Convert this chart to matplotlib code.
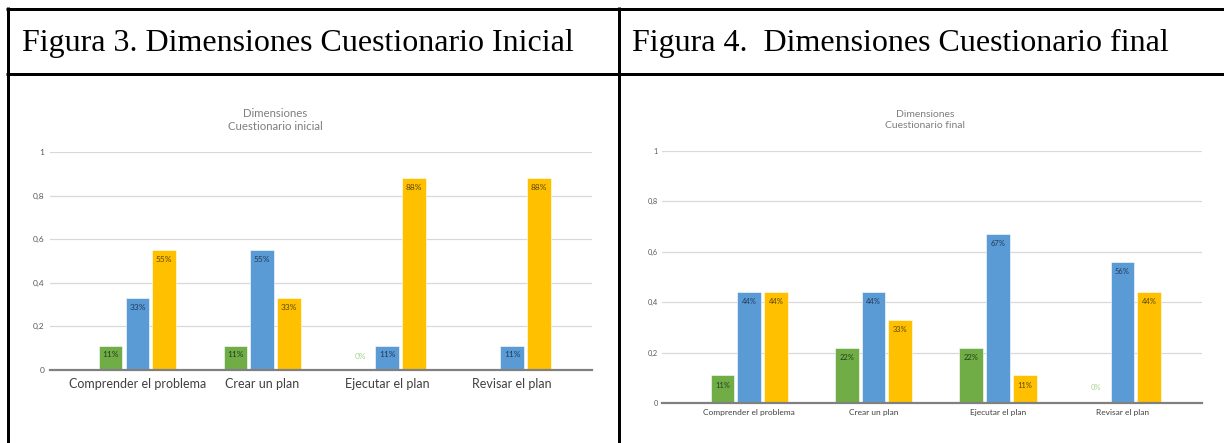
import matplotlib
matplotlib.use("Agg")
import matplotlib.pyplot as plt
import numpy as np

W, H = 1224, 443
categories = ["Comprender el problema", "Crear un plan", "Ejecutar el plan", "Revisar el plan"]
yticks = [0, 0.2, 0.4, 0.6, 0.8, 1]
ytick_labels = ["0", "0,2", "0,4", "0,6", "0,8", "1"]

ini_green = [0.11, 0.11, 0.0, None]
ini_blue = [0.33, 0.55, 0.11, 0.11]
ini_yellow = [0.55, 0.33, 0.88, 0.88]

fin_green = [0.11, 0.22, 0.22, 0.0]
fin_blue = [0.44, 0.44, 0.67, 0.56]
fin_yellow = [0.44, 0.33, 0.11, 0.44]

header_left = "Figura 3. Dimensiones Cuestionario Inicial"
header_right = "Figura 4.  Dimensiones Cuestionario final"
title_left = "Dimensiones\nCuestionario inicial"
title_right = "Dimensiones\nCuestionario final"

GREEN, BLUE, YELLOW = "#70AD47", "#5B9BD5", "#FFC000"
LBL = {GREEN: "#263d18", BLUE: "#1f3a5c", YELLOW: "#5c4500"}
SANS = ["Lato", "DejaVu Sans"]

fig = plt.figure(figsize=(W / 100, H / 100), dpi=100)


def px_axes(x0, y0, x1, y1):
    return fig.add_axes([x0 / W, 1 - y1 / H, (x1 - x0) / W, (y1 - y0) / H])


# table lines
over = fig.add_axes([0, 0, 1, 1])
over.set_xlim(0, W)
over.set_ylim(H, 0)
over.axis("off")
lw = 3 * 0.72
over.plot([6, W], [8.5, 8.5], color="black", lw=lw, solid_capstyle="butt")
over.plot([6, W], [73.5, 73.5], color="black", lw=lw, solid_capstyle="butt")
over.plot([7.5, 7.5], [7, H], color="black", lw=lw, solid_capstyle="butt")
over.plot([618.5, 618.5], [7, H], color="black", lw=lw, solid_capstyle="butt")
over.text(22, 43, header_left, fontsize=23, family="Liberation Serif", va="center", ha="left")
over.text(632, 43, header_right, fontsize=23, family="Liberation Serif", va="center", ha="left")


def draw(box, green, blue, yellow, title, title_xy, fs_cat, fs_tick, fs_title, fs_lbl, cat_pad, ypad):
    ax = px_axes(*box)
    x = np.arange(len(categories))
    bw = 0.19
    off = 0.215
    for vals, col, d in ((green, GREEN, -off), (blue, BLUE, 0), (yellow, YELLOW, off)):
        for xi, v in zip(x, vals):
            if v is None:
                continue
            if v > 0:
                ax.bar(xi + d, v, width=bw, color=col, edgecolor="white", linewidth=0.4, zorder=3)
                ax.text(xi + d, v - 0.025, f"{round(v*100):d}%", ha="center", va="top",
                        fontsize=fs_lbl, color=LBL[col], family=SANS, zorder=4)
            else:
                ax.text(xi + d, 0.06, "0%", ha="center", va="center",
                        fontsize=fs_lbl, color="#A9D18E", family=SANS, zorder=4)
    ax.set_xlim(-0.70, 3.64)
    ax.set_ylim(0, 1)
    ax.set_yticks(yticks)
    ax.set_yticklabels(ytick_labels, fontsize=fs_tick, color="#595959", family=SANS)
    ax.set_xticks(x)
    ax.set_xticklabels(categories, fontsize=fs_cat, color="#404040", family=SANS)
    ax.tick_params(length=0, pad=cat_pad, axis="x")
    ax.tick_params(length=0, pad=ypad, axis="y")
    ax.grid(axis="y", color="#D9D9D9", lw=0.9, zorder=0)
    for s in ("top", "right", "left"):
        ax.spines[s].set_visible(False)
    ax.spines["bottom"].set_color("#808080")
    ax.spines["bottom"].set_linewidth(1.6)
    ax.spines["bottom"].set_zorder(5)
    over.text(title_xy[0], title_xy[1], title, ha="center", va="center", fontsize=fs_title,
              color="#7f7f7f", family=SANS, linespacing=1.3)
    return ax


draw((50, 152, 592, 370), ini_green, ini_blue, ini_yellow, title_left, (275, 120),
     9.0, 6.0, 8.2, 6.0, 6, 4)
draw((662, 151, 1202, 403), fin_green, fin_blue, fin_yellow, title_right, (925, 120),
     6.0, 5.3, 7.5, 5.4, 4, 3)

fig.savefig("out.png", dpi=100)
